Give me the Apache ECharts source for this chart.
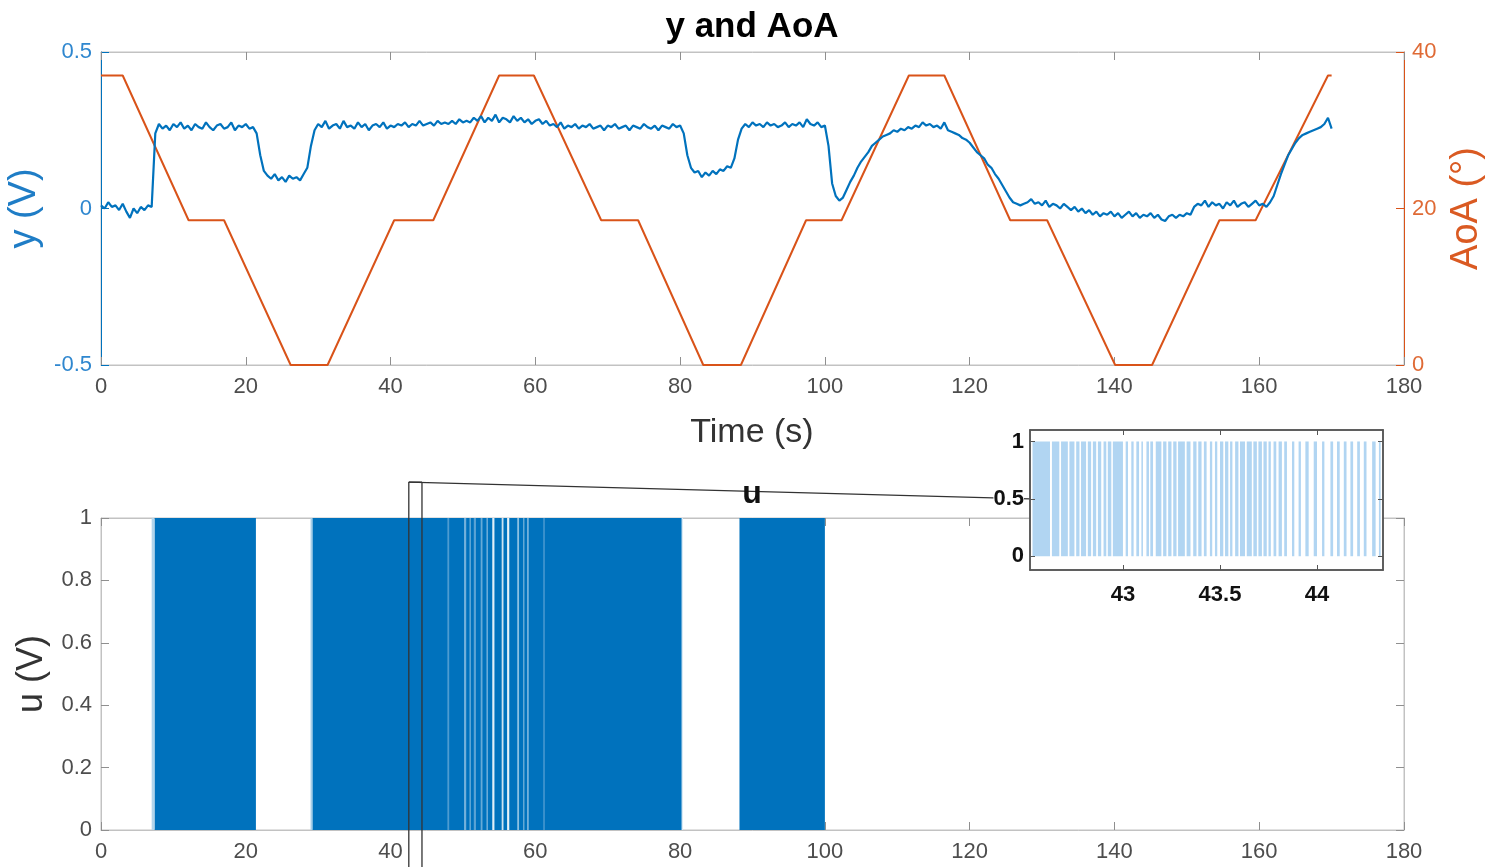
<!DOCTYPE html>
<html><head><meta charset="utf-8">
<script src="https://cdn.jsdelivr.net/npm/echarts@6/dist/echarts.min.js"></script>
<style>html,body{margin:0;padding:0;background:#fff}#c{width:1496px;height:867px}</style>
</head><body><div id="c"></div>
<script>
// ---------------- DATA ----------------
// y (V): sampled every ySampleStep seconds, from t = 0 to t = 170
const ySampleStep = 0.5;
const yValues = [
  // t 0 .. 7
  0.01, 0.00, 0.02, 0.005, 0.01, -0.005, 0.015, -0.01, -0.03, 0.0, -0.015, 0.005, -0.005, 0.01, 0.005,
  // t 7.5
  0.24,
  // t 8 .. 21
  0.27, 0.255, 0.265, 0.25, 0.27, 0.26, 0.275, 0.255, 0.265, 0.25, 0.27, 0.26, 0.255, 0.275, 0.26, 0.25, 0.265, 0.27, 0.255, 0.26, 0.275, 0.25, 0.265, 0.26, 0.27, 0.255, 0.26,
  // t 21.5 .. 29.5
  0.24, 0.17, 0.12, 0.105, 0.095, 0.11, 0.09, 0.1, 0.085, 0.105, 0.095, 0.1, 0.09, 0.11, 0.13, 0.2, 0.25,
  // t 30 .. 50
  0.27, 0.26, 0.28, 0.255, 0.265, 0.27, 0.255, 0.28, 0.26, 0.265, 0.255, 0.275, 0.26, 0.27, 0.25, 0.265, 0.27, 0.26, 0.275, 0.255,
  0.265, 0.26, 0.27, 0.265, 0.275, 0.26, 0.27, 0.265, 0.28, 0.265, 0.27, 0.275, 0.265, 0.28, 0.27, 0.275, 0.27, 0.28, 0.27, 0.285, 0.275,
  // t 50.5 .. 62
  0.28, 0.275, 0.29, 0.28, 0.295, 0.275, 0.29, 0.28, 0.30, 0.275, 0.29, 0.285, 0.275, 0.295, 0.28, 0.29, 0.275, 0.285, 0.27, 0.28, 0.285, 0.27, 0.28, 0.265,
  // t 62.5 .. 80
  0.27, 0.26, 0.275, 0.255, 0.265, 0.26, 0.27, 0.255, 0.265, 0.26, 0.27, 0.255, 0.26, 0.265, 0.25, 0.265, 0.26, 0.27,
  0.255, 0.26, 0.265, 0.25, 0.265, 0.26, 0.255, 0.27, 0.26, 0.255, 0.265, 0.25, 0.265, 0.26, 0.255, 0.27, 0.26, 0.265,
  // t 80.5 .. 88.5
  0.24, 0.17, 0.13, 0.115, 0.12, 0.1, 0.115, 0.105, 0.12, 0.11, 0.125, 0.12, 0.135, 0.13, 0.16, 0.22, 0.255,
  // t 89 .. 100
  0.27, 0.26, 0.275, 0.265, 0.27, 0.26, 0.275, 0.265, 0.27, 0.26, 0.265, 0.275, 0.26, 0.27, 0.265, 0.275, 0.26, 0.285, 0.27, 0.265, 0.275, 0.26, 0.265,
  // t 100.5 .. 128
  0.2, 0.08, 0.04, 0.025, 0.035, 0.06, 0.085, 0.105, 0.13, 0.15, 0.165, 0.18, 0.2, 0.21, 0.22, 0.23, 0.235, 0.24, 0.25, 0.245,
  0.255, 0.25, 0.26, 0.255, 0.265, 0.26, 0.275, 0.265, 0.27, 0.26, 0.265, 0.255, 0.275, 0.25, 0.245, 0.24, 0.235, 0.225, 0.22, 0.21,
  0.195, 0.18, 0.17, 0.16, 0.14, 0.13, 0.11, 0.095, 0.075, 0.055, 0.035, 0.02, 0.015, 0.01, 0.015, 0.02,
  // t 128.5 .. 151
  0.03, 0.015, 0.02, 0.01, 0.025, 0.005, 0.015, 0.01, 0.0, 0.015, 0.005, -0.005, 0.005, -0.01, 0.0, -0.015, -0.005, -0.02, -0.01, -0.025,
  -0.015, -0.02, -0.01, -0.025, -0.015, -0.03, -0.02, -0.01, -0.025, -0.015, -0.03, -0.02, -0.025, -0.015, -0.03, -0.02, -0.035, -0.04, -0.025, -0.02,
  -0.03, -0.02, -0.025, -0.015, -0.02, 0.005,
  // t 151.5 .. 161.5
  0.015, 0.01, 0.025, 0.005, 0.02, 0.01, 0.015, 0.0, 0.02, 0.01, 0.025, 0.005, 0.015, 0.02, 0.005, 0.015, 0.025, 0.01, 0.015, 0.005, 0.02,
  // t 162 .. 170
  0.04, 0.075, 0.11, 0.14, 0.17, 0.19, 0.21, 0.225, 0.235, 0.24, 0.245, 0.25, 0.255, 0.26, 0.27, 0.29, 0.255
];

// AoA (deg) breakpoints
const aoaTime = [0, 3, 12.1, 17, 26.2, 31.3, 40.5, 45.9, 55, 59.8, 69.1, 74.2, 83.2, 88.4, 97.4, 102.3, 111.6, 116.5, 125.6, 130.7, 140.1, 145.2, 154.5, 159.5, 169.5, 170];
const aoaDeg  = [37, 37, 18.5, 18.5, 0, 0, 18.5, 18.5, 37, 37, 18.5, 18.5, 0, 0, 18.5, 18.5, 37, 37, 18.5, 18.5, 0, 0, 18.5, 18.5, 37, 37];

// u (V): switching blocks (start, end) at level 1
const uBlockStart = [7.4, 29.2, 88.2];
const uBlockEnd   = [21.4, 80.3, 100.0];
// lighter stripes (lower switching density) inside the blocks
const stripeStart = [7.0, 28.95, 47.85, 50.15, 50.9, 51.5, 52.45, 53.25, 54.05, 55.35, 56.1, 57.5, 58.3, 58.85, 61.1, 80.2];
const stripeEnd   = [7.35, 29.2, 48.1, 50.45, 51.1, 51.8, 52.7, 53.45, 54.35, 55.6, 56.4, 57.75, 58.5, 59.1, 61.3, 80.4];
const stripeDuty  = [0.3, 0.35, 0.7, 0.55, 0.6, 0.65, 0.6, 0.55, 0.12, 0.2, 0.1, 0.45, 0.6, 0.55, 0.7, 0.15];

// inset: individual pulses of u between 42.52 s and 44.34 s
const pulseStart = [42.534, 42.634, 42.681, 42.724, 42.759, 42.784, 42.819, 42.845, 42.871, 42.900, 42.922, 42.948,
  43.014, 43.043, 43.069, 43.095, 43.121, 43.141, 43.169, 43.207, 43.233, 43.259, 43.284, 43.328, 43.362, 43.388,
  43.417, 43.448, 43.474, 43.500, 43.526, 43.552, 43.578, 43.603, 43.638, 43.672, 43.698, 43.724, 43.750, 43.776,
  43.802, 43.831, 43.871, 43.905, 43.940, 43.983, 44.026, 44.069, 44.103, 44.138, 44.172, 44.207, 44.241, 44.284, 44.319];
const pulseEnd = [42.624, 42.672, 42.716, 42.750, 42.776, 42.810, 42.836, 42.862, 42.888, 42.914, 42.940, 43.000,
  43.026, 43.055, 43.083, 43.103, 43.134, 43.155, 43.198, 43.224, 43.250, 43.276, 43.319, 43.348, 43.379, 43.405,
  43.431, 43.460, 43.486, 43.517, 43.543, 43.564, 43.595, 43.629, 43.664, 43.690, 43.716, 43.741, 43.762, 43.790,
  43.819, 43.845, 43.883, 43.917, 43.957, 44.000, 44.038, 44.083, 44.117, 44.152, 44.186, 44.221, 44.255, 44.302, 44.328];

// axis ranges / ticks
const timeMin = 0, timeMax = 180, timeStep = 20;
const insetTimeMin = 42.521, insetTimeMax = 44.340;
const insetTimeTicks = [43, 43.5, 44];
const insetUTicks = [0, 0.5, 1];

// ---------------- CHART ----------------
const FONT = "'Liberation Sans', Arial, Helvetica, sans-serif";
const BLUE = '#0072BD', ORANGE = '#D95319';
const GRAYLINE = '#c2c2c2', GRAYTXT = '#4d4d4d';

const yData = yValues.map((v, i) => [i * ySampleStep, v]);
const aoaData = aoaTime.map((t, i) => [t, aoaDeg[i]]);
const blockData = uBlockStart.map((s, i) => [s, uBlockEnd[i], 1]);
const stripeData = stripeStart.map((s, i) => [s, stripeEnd[i], 1, stripeDuty[i]]);
const pulseData = pulseStart.map((s, i) => [s, pulseEnd[i], 1]);

function mix(d) {
  const c = [0x00, 0x72, 0xBD];
  const r = Math.round(255 + (c[0] - 255) * d), g = Math.round(255 + (c[1] - 255) * d), b = Math.round(255 + (c[2] - 255) * d);
  return `rgb(${r},${g},${b})`;
}
function rectItem(fillFn) {
  return function (params, api) {
    const p0 = api.coord([api.value(0), api.value(2)]);
    const p1 = api.coord([api.value(1), 0]);
    return { type: 'rect', shape: { x: p0[0], y: p0[1], width: Math.max(p1[0] - p0[0], 1), height: p1[1] - p0[1] },
      style: { fill: fillFn(api) } };
  };
}

const tickIn = (color) => ({ show: true, inside: true, length: 8, lineStyle: { color: color || '#8f8f8f', width: 1 } });
const lbl = (color, extra) => Object.assign({ color: color, fontSize: 22, fontFamily: FONT }, extra || {});
const line = (color, width) => ({ show: true, onZero: false, lineStyle: { color: color, width: width || 1 } });

const chart = echarts.init(document.getElementById('c'), null, { renderer: 'canvas' });
const option = {
  animation: false,
  backgroundColor: '#ffffff',
  grid: [
    { left: 101, top: 52, width: 1303, height: 313, show: true, borderColor: GRAYLINE, borderWidth: 1, backgroundColor: 'rgba(0,0,0,0)', containLabel: false, outerBoundsMode: 'none' },
    { left: 101, top: 518, width: 1303, height: 312, show: true, borderColor: GRAYLINE, borderWidth: 1, backgroundColor: 'rgba(0,0,0,0)', containLabel: false, outerBoundsMode: 'none' },
    { left: 1030, top: 430, width: 353, height: 140, show: true, borderColor: '#555', borderWidth: 1.5, backgroundColor: '#ffffff', z: 5, containLabel: false, outerBoundsMode: 'none' }
  ],
  xAxis: [
    { gridIndex: 0, type: 'value', min: timeMin, max: timeMax, interval: timeStep, axisLine: line(GRAYLINE),
      axisTick: tickIn(), axisLabel: lbl(GRAYTXT, { margin: 11 }), splitLine: { show: false } },
    { gridIndex: 0, type: 'value', position: 'top', min: timeMin, max: timeMax, interval: timeStep, axisLine: line(GRAYLINE),
      axisTick: tickIn(), axisLabel: { show: false }, splitLine: { show: false } },
    { gridIndex: 1, type: 'value', min: timeMin, max: timeMax, interval: timeStep, axisLine: line(GRAYLINE),
      axisTick: tickIn(), axisLabel: lbl(GRAYTXT, { margin: 11 }), splitLine: { show: false } },
    { gridIndex: 1, type: 'value', position: 'top', min: timeMin, max: timeMax, interval: timeStep, axisLine: line(GRAYLINE),
      axisTick: tickIn(), axisLabel: { show: false }, splitLine: { show: false } },
    { gridIndex: 2, type: 'value', min: insetTimeMin, max: insetTimeMax, z: 7, axisLine: line('#555', 1.5),
      axisTick: Object.assign(tickIn('#555'), { customValues: insetTimeTicks, length: 5 }),
      axisLabel: lbl('#111', { fontWeight: 'bold', margin: 14, customValues: insetTimeTicks }), splitLine: { show: false } },
    { gridIndex: 2, type: 'value', position: 'top', min: insetTimeMin, max: insetTimeMax, z: 7, axisLine: line('#555', 1.5),
      axisTick: Object.assign(tickIn('#555'), { customValues: insetTimeTicks, length: 5 }), axisLabel: { show: false }, splitLine: { show: false } }
  ],
  yAxis: [
    { gridIndex: 0, type: 'value', position: 'left', min: -0.5, max: 0.5, interval: 0.5,
      axisLine: line(BLUE), axisTick: tickIn(BLUE), axisLabel: lbl('#2f87cf', { margin: 9 }), splitLine: { show: false },
      name: 'y (V)', nameLocation: 'middle', nameGap: 46, nameRotate: 90, nameTextStyle: { color: '#1f7dc6', fontSize: 38, fontFamily: FONT } },
    { gridIndex: 0, type: 'value', position: 'right', min: 0, max: 40, interval: 20,
      axisLine: line(ORANGE), axisTick: tickIn(ORANGE), axisLabel: lbl('#df6a35', { margin: 8 }), splitLine: { show: false },
      name: 'AoA (°)', nameLocation: 'middle', nameGap: 44, nameRotate: 90, nameTextStyle: { color: '#da5a22', fontSize: 38, fontFamily: FONT } },
    { gridIndex: 1, type: 'value', position: 'left', min: 0, max: 1, interval: 0.2,
      axisLine: line(GRAYLINE), axisTick: tickIn(), axisLabel: lbl(GRAYTXT, { margin: 9 }), splitLine: { show: false },
      name: 'u (V)', nameLocation: 'middle', nameGap: 47, nameRotate: 90, nameTextStyle: { color: '#333', fontSize: 36, fontFamily: FONT } },
    { gridIndex: 1, type: 'value', position: 'right', min: 0, max: 1, interval: 0.2,
      axisLine: line(GRAYLINE), axisTick: tickIn(), axisLabel: { show: false }, splitLine: { show: false } },
    { gridIndex: 2, type: 'value', position: 'left', min: -0.12, max: 1.1, z: 7,
      axisLine: line('#555', 1.5),
      axisTick: Object.assign(tickIn('#555'), { customValues: insetUTicks, length: 5 }),
      axisLabel: lbl('#111', { fontWeight: 'bold', margin: 6, customValues: insetUTicks, backgroundColor: '#fff' }), splitLine: { show: false } },
    { gridIndex: 2, type: 'value', position: 'right', min: -0.12, max: 1.1, z: 7,
      axisLine: line('#555', 1.5),
      axisTick: Object.assign(tickIn('#555'), { customValues: insetUTicks, length: 5 }), axisLabel: { show: false }, splitLine: { show: false } }
  ],
  series: [
    { name: 'AoA', type: 'line', xAxisIndex: 0, yAxisIndex: 1, data: aoaData, showSymbol: false, z: 2,
      lineStyle: { color: ORANGE, width: 2 }, itemStyle: { color: ORANGE } },
    { name: 'y', type: 'line', xAxisIndex: 0, yAxisIndex: 0, data: yData, showSymbol: false, z: 3,
      lineStyle: { color: BLUE, width: 2.2 }, itemStyle: { color: BLUE } },
    { name: 'u', type: 'custom', xAxisIndex: 2, yAxisIndex: 2, data: blockData, encode: { x: [0, 1], y: 2 }, z: 2,
      renderItem: rectItem(() => BLUE) },
    { name: 'u stripes', type: 'custom', xAxisIndex: 2, yAxisIndex: 2, data: stripeData, encode: { x: [0, 1], y: 2 }, z: 3,
      renderItem: rectItem((api) => mix(api.value(3))) },
    { name: 'u zoom', type: 'custom', xAxisIndex: 4, yAxisIndex: 4, data: pulseData, encode: { x: [0, 1], y: 2 }, z: 6, clip: true,
      renderItem: rectItem(() => '#b1d5f2') }
  ]
};
chart.setOption(option);

// titles and connector for the zoom box
const tt = (text, x, y, font, fill) => ({ type: 'text', x: x, y: y, z: 10,
  style: { text: text, font: font, fill: fill, textAlign: 'center', textVerticalAlign: 'middle', align: 'center', verticalAlign: 'middle' } });
const pTL = chart.convertToPixel({ xAxisIndex: 2, yAxisIndex: 2 }, [insetTimeMin, 1.115]);
const pTR = chart.convertToPixel({ xAxisIndex: 2, yAxisIndex: 2 }, [insetTimeMax, 1.115]);
const pBL = chart.convertToPixel({ xAxisIndex: 2, yAxisIndex: 2 }, [insetTimeMin, -0.2]);
const pIn = chart.convertToPixel({ xAxisIndex: 4, yAxisIndex: 4 }, [insetTimeMin, 0.5]);
const ls = { stroke: '#333', lineWidth: 1.3 };
chart.setOption({
  graphic: [
    { type: 'line', z: 1, shape: { x1: pTL[0], y1: pTL[1], x2: pIn[0], y2: pIn[1] }, style: ls },
    { type: 'line', z: 4, shape: { x1: pTL[0], y1: pTL[1], x2: pTR[0], y2: pTR[1] }, style: ls },
    { type: 'line', z: 4, shape: { x1: pTL[0], y1: pTL[1], x2: pBL[0], y2: pBL[1] }, style: ls },
    { type: 'line', z: 4, shape: { x1: pTR[0], y1: pTR[1], x2: pTR[0], y2: pBL[1] }, style: ls },
    tt('y and AoA', 752, 27, `bold 35px ${FONT}`, '#000'),
    tt('Time (s)', 752, 433, `34px ${FONT}`, '#333'),
    Object.assign(tt('u', 752, 494, `bold 32px ${FONT}`, '#111'), { z: 3 })
  ]
});
</script></body></html>
